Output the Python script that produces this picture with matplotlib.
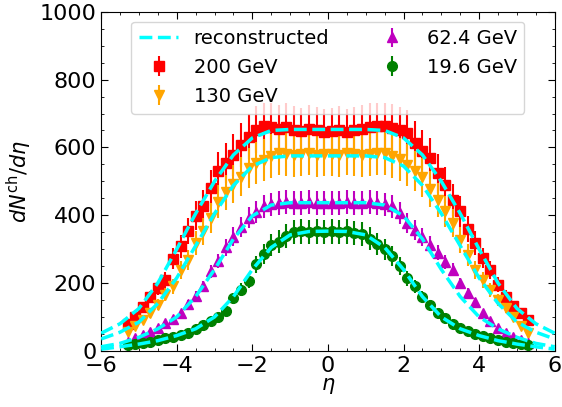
import matplotlib
matplotlib.use('Agg')
import matplotlib.pyplot as plt
import numpy as np
from matplotlib.ticker import AutoMinorLocator

# --- data ---
eta = np.round(np.arange(-5.3, 5.31, 0.2), 1)

dn_200 = [78, 101, 129, 158, 185, 209, 272, 308, 354, 398, 428, 480, 529, 554,
          578, 608, 632, 652, 662, 660, 655, 660, 652, 648, 655, 650, 645,
          648, 652, 645, 650, 655, 660, 662, 662, 657, 650, 642, 613, 588,
          568, 524, 490, 445, 411, 359, 318, 273, 239, 195, 160, 131, 111, 91]
err_200 = [10, 12, 15, 18, 21, 24, 30, 34, 39, 43, 46, 52, 57, 60,
           62, 65, 67, 69, 70, 70, 69, 70, 69, 69, 69, 69, 68,
           69, 69, 68, 69, 69, 70, 70, 70, 70, 69, 68, 66, 63,
           61, 57, 53, 48, 45, 39, 35, 30, 27, 22, 18, 15, 13, 11]

dn_130 = [55, 72, 91, 111, 136, 165, 190, 239, 268, 318, 352, 391, 440, 468,
          492, 514, 539, 555, 563, 575, 583, 580, 578, 580, 583, 578, 580,
          580, 578, 583, 580, 578, 580, 583, 583, 575, 565, 548, 530, 512,
          478, 445, 411, 377, 327, 283, 239, 209, 180, 150, 126, 101, 72, 52]
err_130 = [7, 9, 11, 13, 16, 19, 22, 27, 30, 35, 39, 44, 49, 52,
           55, 57, 60, 62, 63, 64, 65, 65, 64, 65, 65, 64, 65,
           65, 64, 65, 65, 64, 65, 65, 65, 64, 63, 61, 59, 57,
           53, 50, 46, 42, 37, 32, 27, 24, 20, 17, 14, 12, 9, 7]

dn_624 = [25, 38, 47, 57, 68, 82, 95, 111, 138, 163, 190, 235, 265, 305,
          337, 365, 392, 410, 426, 432, 436, 438, 436, 437, 438, 436, 437,
          437, 436, 438, 437, 436, 438, 436, 432, 426, 406, 377, 357, 335,
          313, 290, 263, 239, 200, 170, 145, 111, 87, 67, 52, 42, 32, 23]
err_624 = [3, 4, 5, 5, 6, 7, 8, 9, 11, 13, 15, 19, 21, 24,
           27, 29, 31, 33, 34, 34, 35, 35, 35, 35, 35, 35, 35,
           35, 35, 35, 35, 35, 35, 35, 34, 34, 32, 30, 29, 27,
           25, 23, 21, 19, 16, 14, 12, 9, 7, 6, 5, 4, 3, 3]

dn_196 = [18, 20, 23, 27, 32, 37, 42, 47, 53, 65, 77, 88, 100, 118,
          155, 180, 205, 255, 285, 312, 322, 338, 350, 352, 350, 352, 350,
          352, 350, 352, 348, 345, 330, 316, 300, 280, 250, 214, 190, 160,
          135, 112, 98, 80, 68, 58, 50, 43, 37, 32, 27, 24, 21, 18]
err_196 = [2, 2, 2, 3, 3, 4, 4, 5, 5, 7, 8, 9, 10, 12,
           16, 19, 21, 26, 29, 32, 33, 35, 36, 36, 36, 36, 36,
           36, 36, 36, 36, 35, 34, 32, 31, 29, 26, 22, 19, 16,
           14, 12, 10, 8, 7, 6, 5, 4, 4, 3, 3, 2, 2, 2]

# reconstructed curves, sampled every 0.5 in eta
eta_rec = np.arange(-6, 6.01, 0.5)
rec_200 = [52, 80, 125, 200, 300, 405, 500, 578, 628, 650, 653, 653, 653,
           653, 653, 650, 628, 578, 500, 405, 300, 200, 125, 80, 52]
rec_130 = [35, 55, 85, 140, 215, 310, 405, 488, 545, 570, 575, 575, 575,
           575, 575, 570, 545, 488, 405, 310, 215, 140, 85, 55, 35]
rec_624 = [12, 22, 40, 65, 100, 160, 240, 330, 398, 430, 437, 437, 437,
           437, 437, 430, 398, 330, 240, 160, 100, 65, 40, 22, 12]
rec_196 = [5, 12, 20, 30, 45, 65, 100, 160, 240, 305, 342, 352, 353,
           352, 342, 305, 240, 160, 100, 65, 45, 30, 20, 12, 5]

series = [
    ('200 GeV',  dn_200, err_200, rec_200, 'red',     's'),
    ('130 GeV',  dn_130, err_130, rec_130, 'orange',  'v'),
    ('62.4 GeV', dn_624, err_624, rec_624, 'm',       '^'),
    ('19.6 GeV', dn_196, err_196, rec_196, 'green',   'o'),
]

plt.rcParams['font.size'] = 15
plt.rcParams['mathtext.fontset'] = 'dejavusans'

fig = plt.figure(figsize=(5.62, 4.07), dpi=100)
ax = fig.add_axes([0.180, 0.138, 0.807, 0.833])

handles = []
rec_handle = None
for label, dn, err, rec, col, mk in series:
    h = ax.errorbar(eta, dn, yerr=err, fmt=mk, color=col, ms=7,
                    elinewidth=1.5, capsize=0, label=label, zorder=2)
    handles.append(h)
    line, = ax.plot(eta_rec, rec, '--', color='cyan', lw=2.5,
                    label='reconstructed', zorder=3)
    rec_handle = line

ax.set_xlim(-6, 6)
ax.set_ylim(0, 1000)
ax.set_xticks([-6, -4, -2, 0, 2, 4, 6])
ax.set_yticks([0, 200, 400, 600, 800, 1000])
ax.xaxis.set_minor_locator(AutoMinorLocator())
ax.yaxis.set_minor_locator(AutoMinorLocator())
ax.tick_params(which='both', direction='in', top=True, right=True,
               labelsize=16)
ax.tick_params(which='major', length=5)
ax.tick_params(which='minor', length=2.5)

ax.set_xlabel(r'$\eta$', labelpad=0)
ax.set_ylabel(r'$dN^{\mathrm{ch}}/d\eta$')

ax.legend([rec_handle] + handles,
          ['reconstructed'] + [s[0] for s in series],
          loc='upper center', ncol=2, fontsize=14, columnspacing=2.2)

fig.savefig('out.png', dpi=100)
